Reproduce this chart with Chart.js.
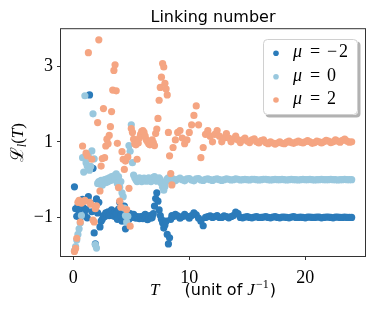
<!DOCTYPE html>
<html><head><meta charset="utf-8">
<script src="https://cdn.jsdelivr.net/npm/chart.js@4.4.1/dist/chart.umd.min.js"></script>
<style>html,body{margin:0;padding:0;background:#fff;}canvas{display:block;}</style>
</head><body>
<canvas id="c" width="374" height="312"></canvas>
<script>
// time grid (unit of 1/J)
const T = [
 0.1,0.2,0.3,0.4,0.5,0.6,0.7,0.8,0.9,
 1.0,1.1,1.2,1.3,1.4,1.5,1.6,1.7,1.8,1.9,
 2.0,2.1,2.2,2.3,2.4,2.5,2.6,2.7,2.8,2.9,
 3.0,3.1,3.2,3.3,3.4,3.5,3.6,3.7,3.8,3.9,
 4.0,4.1,4.2,4.3,4.4,4.5,4.6,4.7,4.8,4.9,
 5.0,5.1,5.2,5.3,5.4,5.5,5.6,5.7,5.8,5.9,
 6.0,6.1,6.2,6.3,6.4,6.5,6.6,6.7,6.8,6.9,
 7.0,7.1,7.2,7.3,7.4,7.5,7.6,7.7,7.8,7.9,
 8.0,8.1,8.2,8.3,8.4,8.5,
 8.6,8.8,9.0,9.2,9.4,9.6,9.8,10.0,
 10.2,10.4,10.6,10.8,11.0,11.2,11.4,11.6,11.8,12.0,
 12.2,12.4,12.6,12.8,13.0,13.2,13.4,13.6,13.8,14.0,
 14.2,14.4,14.6,14.8,15.0,15.2,15.4,15.6,15.8,16.0,
 16.2,16.4,16.6,16.8,17.0,17.2,17.4,17.6,17.8,18.0,
 18.2,18.4,18.6,18.8,19.0,19.2,19.4,19.6,19.8,20.0,
 20.2,20.4,20.6,20.8,21.0,21.2,21.4,21.6,21.8,22.0,
 22.2,22.4,22.6,22.8,23.0,23.2,23.4,23.6,23.8,24.0
];
const muMinus2 = [
 -0.19,-0.77,-0.97,-0.70,-0.85,-1.00,-0.63,-0.52,-0.75,
 -0.95,-0.79,-1.01,-0.45,2.24,-0.62,-0.85,0.30,-1.41,-1.70,
 -0.51,-0.88,-0.60,-1.25,-1.10,-1.05,-0.95,-0.98,-0.88,-0.92,
 -0.85,-0.95,-0.88,-0.80,-0.92,-0.97,-0.85,-0.90,-1.05,-0.78,
 -0.60,-0.95,-1.10,-0.85,-0.70,-1.30,-0.90,-0.98,-1.05,-0.90,
 -0.95,-1.00,-0.92,-1.00,-1.02,-0.98,-1.00,-1.03,-0.98,-1.00,
 -1.03,-0.95,-0.92,-1.00,-1.06,-1.00,-0.95,-1.02,-1.00,-0.90,
 -0.70,-0.50,-0.35,-0.57,-0.80,-0.95,-1.05,-1.14,-1.28,-1.20,
 -1.10,-1.45,-1.70,-1.54,-1.05,-0.95,
 -0.98,-0.92,-0.96,-1.02,-0.98,-0.92,-0.97,-1.02,
 -0.95,-0.88,-0.93,-1.02,-1.10,-1.22,-1.00,-0.98,-0.96,-1.00,
 -0.98,-0.95,-1.00,-1.00,-0.96,-0.98,-1.01,-0.98,-0.95,-0.86,
 -0.90,-1.00,-1.01,-0.99,-0.98,-1.00,-1.01,-0.99,-0.98,-1.00,
 -1.00,-0.99,-0.98,-1.00,-1.01,-0.99,-0.98,-1.00,-1.01,-0.99,
 -0.99,-1.00,-1.01,-0.99,-0.98,-1.00,-1.00,-0.99,-1.00,-1.01,
 -0.99,-0.99,-1.00,-1.00,-0.99,-0.99,-1.01,-1.00,-0.99,-0.99,
 -1.00,-1.01,-0.99,-0.99,-1.00,-1.00,-0.99,-1.00,-1.00,-1.00
];
const mu0 = [
 -1.88,-1.77,-1.60,-1.45,-1.30,-1.15,-0.95,0.58,0.20,
 2.22,0.45,0.36,0.62,0.25,0.35,0.76,1.74,0.55,-1.72,
 -1.81,-0.10,-0.05,-0.12,-0.02,-0.15,-0.05,0.00,-0.08,0.02,
 -0.05,0.05,-0.02,0.08,0.00,0.10,0.05,0.15,-0.10,0.08,
 -0.20,-0.05,-0.35,-0.45,-0.75,-0.95,-1.12,-0.97,0.90,0.75,
 1.45,0.45,0.12,0.05,0.00,-0.05,0.02,0.05,-0.02,-0.05,
 0.00,0.04,0.00,-0.04,0.02,0.05,0.00,-0.05,0.00,0.06,
 0.08,0.02,-0.04,0.00,0.05,0.00,-0.10,-0.20,-0.28,-0.18,
 -0.05,0.02,0.05,0.02,0.00,-0.02,
 0.02,-0.03,0.01,0.04,0.00,-0.03,0.02,0.03,
 -0.01,-0.03,0.02,0.03,-0.01,-0.02,0.01,0.02,0.00,-0.02,
 0.01,0.02,0.00,-0.02,0.00,0.02,0.01,-0.01,0.00,0.02,
 0.01,-0.01,0.00,0.01,0.00,-0.01,0.01,0.01,0.00,-0.01,
 0.00,0.01,0.01,0.00,-0.01,0.00,0.01,0.00,0.00,0.01,
 0.00,-0.01,0.00,0.01,0.00,0.00,-0.01,0.00,0.01,0.00,
 0.00,0.01,0.00,-0.01,0.00,0.00,0.01,0.00,0.00,0.00,
 0.01,0.00,0.00,-0.01,0.00,0.00,0.01,0.00,0.00,0.00
];
const mu2 = [
 -1.90,-1.82,-1.55,-0.60,-0.55,-1.12,-0.62,0.89,-0.58,
 -0.55,0.70,0.63,3.36,-0.60,-0.65,0.54,-1.07,-1.12,-0.77,
 -0.69,1.51,3.70,-0.30,0.36,0.56,1.88,0.58,0.89,1.07,
 0.95,1.17,1.40,1.80,2.37,2.89,3.04,2.35,0.96,-0.21,
 -0.57,-0.73,0.74,0.54,0.27,0.49,-0.79,0.60,-0.23,-1.23,
 1.35,1.25,1.07,0.95,0.92,0.54,0.97,1.10,1.20,1.28,
 1.30,1.25,1.15,1.05,1.00,0.95,0.92,0.95,1.05,0.98,
 0.90,1.22,1.34,1.62,2.10,2.44,2.71,3.07,2.98,2.55,
 2.40,2.24,1.25,0.63,0.16,-0.14,
 0.85,1.05,1.25,1.30,1.10,0.95,1.05,1.25,
 1.45,1.70,1.95,1.45,0.58,0.85,1.20,1.30,1.15,1.00,
 1.20,1.30,1.15,1.00,1.10,1.22,1.10,1.00,1.08,1.15,
 1.05,0.98,1.05,1.10,1.02,0.98,1.05,1.08,1.00,0.97,
 1.03,1.05,0.98,0.95,1.00,0.97,0.94,0.97,1.00,0.96,
 0.95,0.99,1.02,0.98,0.96,0.99,1.02,0.99,0.97,1.00,
 1.03,1.00,0.96,0.98,1.02,1.00,0.97,1.00,1.04,1.02,
 0.98,1.00,1.05,1.02,0.99,1.04,1.07,1.02,0.99,1.00
];
const seriesLabels = ['μ = −2', 'μ = 0', 'μ = 2'];
const seriesValues = [muMinus2, mu0, mu2];
const seriesColors = ['#2b7bba', '#99c8de', '#f5a582'];
const xTicks = [0, 10, 20];
const yTicks = [-1, 1, 3];
const titleText = 'Linking number';

const datasets = seriesValues.map((vals, k) => ({
  label: seriesLabels[k],
  data: T.map((t, i) => ({x: t, y: vals[i]})),
  backgroundColor: seriesColors[k],
  borderWidth: 0,
  pointRadius: 3.6,
  pointBorderWidth: 0,
  showLine: false,
  order: 2 - k
}));

const fmt = v => v < 0 ? '\u2212' + Math.abs(v) : String(v);

const decor = {
  id: 'decor',
  afterLayout(chart) {
    const tb = chart.titleBlock, ca = chart.chartArea;
    if (tb) { tb.left = ca.left; tb.right = ca.right; tb.width = ca.right - ca.left; }
  },
  afterDatasetsDraw(chart) {
    const ctx = chart.ctx, ca = chart.chartArea;
    ctx.save();
    ctx.strokeStyle = '#333';
    ctx.lineWidth = 1;
    ctx.strokeRect(ca.left - 0.5, ca.top - 0.5, ca.right - ca.left + 1, ca.bottom - ca.top + 1);
    ctx.restore();
  },
  afterDraw(chart) {
    const ctx = chart.ctx, ca = chart.chartArea;
    ctx.save();
    ctx.fillStyle = '#000';
    ctx.textBaseline = 'alphabetic';
    // x axis title: T    (unit of J^-1)
    const parts = [
      {t: 'T', f: 'italic 17px "Liberation Serif"', dy: 0, gap: 25},
      {t: '(unit of ', f: '16px "DejaVu Sans"', dy: 0, gap: 0},
      {t: 'J', f: 'italic 17px "Liberation Serif"', dy: 0, gap: 1},
      {t: '\u22121', f: '12px "Liberation Serif"', dy: -7, gap: 1},
      {t: ')', f: '16px "DejaVu Sans"', dy: 0, gap: 0}
    ];
    let total = 0;
    parts.forEach(p => { ctx.font = p.f; p.w = ctx.measureText(p.t).width; total += p.w + p.gap; });
    let x = (ca.left + ca.right) / 2 - total / 2;
    const by = 295;
    parts.forEach(p => { ctx.font = p.f; ctx.fillText(p.t, x, by + p.dy); x += p.w + p.gap; });

    // y axis title: L_l(T)
    ctx.save();
    ctx.translate(23, (ca.top + ca.bottom) / 2);
    ctx.rotate(-Math.PI / 2);
    const yp = [
      {t: '\u2112', f: '18px "DejaVu Serif"', dy: 0},
      {t: 'l', f: 'italic 12px "Liberation Serif"', dy: 3},
      {t: '(', f: '17px "Liberation Serif"', dy: 0},
      {t: 'T', f: 'italic 17px "Liberation Serif"', dy: 0},
      {t: ')', f: '17px "Liberation Serif"', dy: 0}
    ];
    let tw = 0;
    yp.forEach(p => { ctx.font = p.f; p.w = ctx.measureText(p.t).width; tw += p.w; });
    let yx = -tw / 2;
    yp.forEach(p => { ctx.font = p.f; ctx.fillText(p.t, yx, p.dy); yx += p.w; });
    ctx.restore();

    // legend
    const lx = 263, ly = 39, lw = 95, lh = 76, r = 4;
    const rr = (x0, y0) => { ctx.beginPath(); ctx.roundRect(x0, y0, lw, lh, r); };
    ctx.fillStyle = 'rgba(0,0,0,0.3)';
    rr(lx + 2.5, ly + 2.5); ctx.fill();
    ctx.fillStyle = '#fff';
    rr(lx, ly); ctx.fill();
    ctx.strokeStyle = '#d0d0d0'; ctx.lineWidth = 1;
    ctx.beginPath(); ctx.roundRect(lx + 0.5, ly + 0.5, lw - 1, lh - 1, r); ctx.stroke();
    const rows = [53.3, 76.7, 100];
    const vals = ['\u22122', '0', '2'];
    rows.forEach((ry, k) => {
      ctx.fillStyle = seriesColors[k];
      ctx.beginPath(); ctx.arc(276, ry, 2.8, 0, Math.PI * 2); ctx.fill();
      ctx.fillStyle = '#000';
      const base = ry + 3.8;
      ctx.textAlign = 'left';
      ctx.font = 'italic 18px "Liberation Serif"';
      ctx.fillText('\u03bc', 293, base);
      ctx.font = '18px "Liberation Serif"';
      ctx.textAlign = 'center';
      ctx.fillText('=', 315, base);
      if (k === 0) {
        ctx.fillText('\u2212', 332, base);
        ctx.textAlign = 'left';
        ctx.fillText('2', 339, base);
      } else {
        ctx.textAlign = 'left';
        ctx.fillText(vals[k], 327, base);
      }
    });
    ctx.restore();
  }
};

new Chart(document.getElementById('c'), {
  type: 'scatter',
  data: {datasets},
  plugins: [decor],
  options: {
    responsive: false,
    devicePixelRatio: 1,
    animation: false,
    events: [],
    layout: {padding: {left: 0, right: 9, top: 0, bottom: 0}},
    plugins: {
      legend: {display: false},
      tooltip: {enabled: false},
      title: {
        display: true, text: titleText, color: '#000',
        font: {family: 'DejaVu Sans', size: 16, weight: 'normal'},
        padding: {top: 8, bottom: 2}
      }
    },
    scales: {
      x: {
        type: 'linear', min: -1.06, max: 25.15,
        afterFit: s => { s.height = 56; },
        afterBuildTicks: s => { s.ticks = xTicks.map(v => ({value: v})); },
        grid: {display: true, drawOnChartArea: false, drawTicks: true, tickLength: 4, tickColor: '#333', tickWidth: 1},
        border: {display: false},
        ticks: {autoSkip: false, maxRotation: 0, color: '#000', padding: 7,
          font: {family: 'Liberation Serif', size: 18}, callback: v => fmt(v)}
      },
      y: {
        type: 'linear', min: -2.02, max: 3.98,
        afterFit: s => { s.width = 61; },
        afterBuildTicks: s => { s.ticks = yTicks.map(v => ({value: v})); },
        grid: {display: true, drawOnChartArea: false, drawTicks: true, tickLength: 4, tickColor: '#333', tickWidth: 1},
        border: {display: false},
        ticks: {autoSkip: false, color: '#000', padding: 4,
          font: {family: 'Liberation Serif', size: 18}, callback: v => fmt(v)}
      }
    }
  }
});
</script>
</body></html>
